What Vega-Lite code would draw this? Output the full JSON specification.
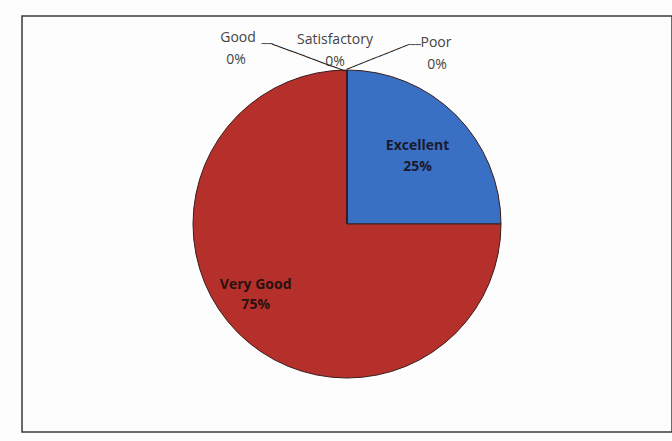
{
  "$schema": "https://vega.github.io/schema/vega-lite/v6.json",
  "width": 650,
  "height": 416,
  "padding": {"left": 22, "top": 16, "right": 0, "bottom": 9},
  "background": "#fdfdfd",
  "view": {"stroke": "#3a3a3a", "strokeWidth": 1.5},
  "data": {
    "values": [
      {"category": "Excellent", "value": 0.25},
      {"category": "Very Good", "value": 0.75},
      {"category": "Good", "value": 0},
      {"category": "Satisfactory", "value": 0},
      {"category": "Poor", "value": 0}
    ]
  },
  "encoding": {
    "theta": {"field": "value", "type": "quantitative", "stack": true},
    "order": {"field": "value", "type": "quantitative", "sort": "ascending"},
    "detail": {"field": "category", "type": "nominal"}
  },
  "layer": [
    {
      "mark": {"type": "arc", "outerRadius": 154, "stroke": "#3a1c1c", "strokeWidth": 1},
      "encoding": {
        "color": {
          "field": "category",
          "type": "nominal",
          "scale": {
            "domain": ["Excellent", "Very Good", "Good", "Satisfactory", "Poor"],
            "range": ["#3a70c4", "#b5302a", "#7a9a3a", "#6a4f9a", "#3aa0b8"]
          },
          "legend": null
        }
      }
    },
    {
      "transform": [{"filter": "datum.category === 'Excellent'"}],
      "mark": {"type": "text", "radius": 97, "dx": 2, "dy": -9, "font": "Open Sans", "fontSize": 14, "fontWeight": "bold", "color": "#1a1a2e"},
      "encoding": {"text": {"field": "category", "type": "nominal"}}
    },
    {
      "transform": [{"filter": "datum.category === 'Excellent'"}],
      "mark": {"type": "text", "radius": 97, "dx": 2, "dy": 12, "font": "Open Sans", "fontSize": 14, "fontWeight": "bold", "color": "#1a1a2e"},
      "encoding": {"text": {"field": "value", "type": "quantitative", "format": ".0%"}}
    },
    {
      "transform": [{"filter": "datum.value > 0"}],
      "mark": {"type": "text", "radius": 115, "dx": -10, "dy": -20, "font": "Open Sans", "fontSize": 14, "fontWeight": "bold", "color": "#2a1010"},
      "encoding": {"text": {"condition": {"test": "datum.category === 'Very Good'", "field": "category", "type": "nominal"}, "value": ""}}
    },
    {
      "transform": [{"filter": "datum.value > 0"}],
      "mark": {"type": "text", "radius": 115, "dx": -10, "dy": 0, "font": "Open Sans", "fontSize": 14, "fontWeight": "bold", "color": "#2a1010"},
      "encoding": {"text": {"condition": {"test": "datum.category === 'Very Good'", "field": "value", "type": "quantitative", "format": ".0%"}, "value": ""}}
    },
    {
      "transform": [{"filter": "datum.category === 'Good'"}],
      "mark": {"type": "text", "radius": 170, "dx": -109, "dy": -16, "font": "Open Sans", "fontSize": 14, "color": "#444444"},
      "encoding": {"text": {"field": "category", "type": "nominal"}}
    },
    {
      "transform": [{"filter": "datum.category === 'Good'"}],
      "mark": {"type": "text", "radius": 170, "dx": -111, "dy": 6, "font": "Open Sans", "fontSize": 14, "color": "#444444"},
      "encoding": {"text": {"field": "value", "type": "quantitative", "format": ".0%"}}
    },
    {
      "transform": [{"filter": "datum.category === 'Satisfactory'"}],
      "mark": {"type": "text", "radius": 170, "dx": -12, "dy": -14, "font": "Open Sans", "fontSize": 14, "color": "#444444"},
      "encoding": {"text": {"field": "category", "type": "nominal"}}
    },
    {
      "transform": [{"filter": "datum.category === 'Satisfactory'"}],
      "mark": {"type": "text", "radius": 170, "dx": -12, "dy": 8, "font": "Open Sans", "fontSize": 14, "color": "#444444"},
      "encoding": {"text": {"field": "value", "type": "quantitative", "format": ".0%"}}
    },
    {
      "transform": [{"filter": "datum.category === 'Poor'"}],
      "mark": {"type": "text", "radius": 170, "dx": 89, "dy": -11, "font": "Open Sans", "fontSize": 14, "color": "#444444"},
      "encoding": {"text": {"field": "category", "type": "nominal"}}
    },
    {
      "transform": [{"filter": "datum.category === 'Poor'"}],
      "mark": {"type": "text", "radius": 170, "dx": 90, "dy": 11, "font": "Open Sans", "fontSize": 14, "color": "#444444"},
      "encoding": {"text": {"field": "value", "type": "quantitative", "format": ".0%"}}
    },
    {
      "transform": [{"filter": "datum.category === 'Good'"}],
      "mark": {"type": "text", "radius": 154, "angle": 20.3, "dx": -40.45, "dy": 1.63, "font": "DejaVu Sans", "fontSize": 11.75, "color": "#222222", "baseline": "middle", "text": "───────────"},
      "encoding": {}
    },
    {
      "transform": [{"filter": "datum.category === 'Good'"}],
      "mark": {"type": "text", "radius": 154, "dx": -80, "dy": -26, "font": "DejaVu Sans", "fontSize": 9, "color": "#222222", "baseline": "middle", "text": "──"},
      "encoding": {}
    },
    {
      "transform": [{"filter": "datum.category === 'Poor'"}],
      "mark": {"type": "text", "radius": 154, "angle": -21.6, "dx": 33.9, "dy": 0, "font": "DejaVu Sans", "fontSize": 11.26, "color": "#222222", "baseline": "middle", "text": "──────────"},
      "encoding": {}
    },
    {
      "transform": [{"filter": "datum.category === 'Poor'"}],
      "mark": {"type": "text", "radius": 154, "dx": 68.5, "dy": -25, "font": "DejaVu Sans", "fontSize": 9, "color": "#222222", "baseline": "middle", "text": "──"},
      "encoding": {}
    }
  ]
}
